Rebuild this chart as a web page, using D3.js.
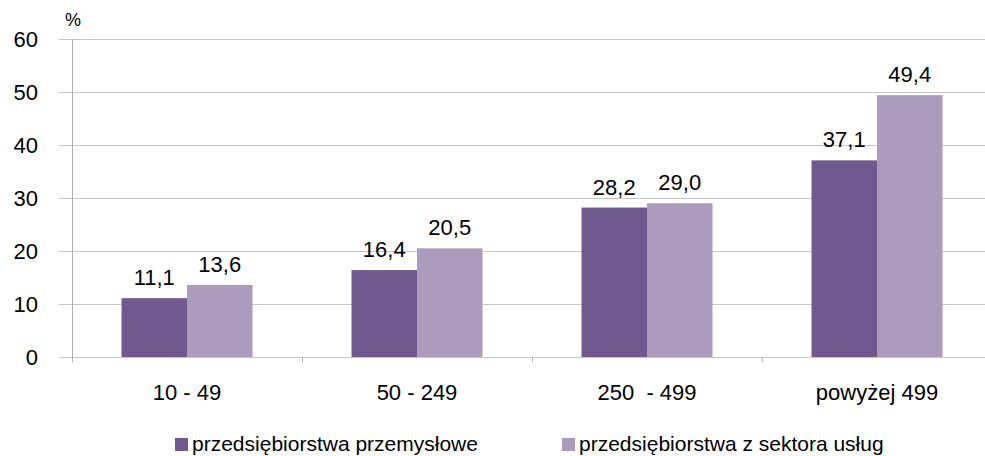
<!DOCTYPE html>
<html>
<head>
<meta charset="utf-8">
<script src="https://cdn.jsdelivr.net/npm/d3@7"></script>
<style>
  html, body { margin: 0; padding: 0; background: #fff; }
  svg { display: block; }
  text { font-family: "Liberation Sans", Arial, sans-serif; fill: #000; }
</style>
</head>
<body>
<svg id="chart" width="985" height="456"></svg>
<script>
const categories = ["10 - 49", "50 - 249", "250  - 499", "powyżej 499"];
const seriesNames = ["przedsiębiorstwa przemysłowe", "przedsiębiorstwa z sektora usług"];
const industry = [11.1, 16.4, 28.2, 37.1];
const services = [13.6, 20.5, 29.0, 49.4];
const yTicks = [0, 10, 20, 30, 40, 50, 60];
const colors = ["#6F598E", "#AB9CBE"];

const svg = d3.select("#chart");
const plotLeft = 72, plotRight = 992, plotTop = 39, plotBottom = 357;

const x = d3.scaleBand().domain(categories).range([plotLeft, plotRight]).paddingInner(0).paddingOuter(0);
const x1 = d3.scaleBand().domain(seriesNames).range([0, x.bandwidth()]).paddingInner(0).paddingOuter(0.756);
const y = d3.scaleLinear().domain([0, 60]).range([plotBottom, plotTop]);

// gridlines
svg.append("g").selectAll("line").data(yTicks).join("line")
  .attr("x1", 59).attr("x2", 985)
  .attr("y1", d => Math.round(y(d)) + 0.5).attr("y2", d => Math.round(y(d)) + 0.5)
  .attr("stroke", "#C6C6C6").attr("stroke-width", 1);

// y axis line
svg.append("line")
  .attr("x1", plotLeft + 0.5).attr("x2", plotLeft + 0.5)
  .attr("y1", plotTop).attr("y2", plotBottom + 5)
  .attr("stroke", "#B0B0B0").attr("stroke-width", 1);

// category boundary ticks
const bounds = categories.map(c => x(c)).concat([plotRight]);
svg.append("g").selectAll("line").data(bounds).join("line")
  .attr("x1", d => Math.round(d) + 0.5).attr("x2", d => Math.round(d) + 0.5)
  .attr("y1", plotBottom).attr("y2", plotBottom + 5)
  .attr("stroke", "#B0B0B0").attr("stroke-width", 1);

// y tick labels
svg.append("g").selectAll("text").data(yTicks).join("text")
  .attr("x", 38).attr("y", d => y(d) + 7.5)
  .attr("text-anchor", "end").attr("font-size", 22)
  .text(d => d);

// unit label
svg.append("text").attr("x", 65).attr("y", 26).attr("font-size", 18).text("%");

// bars
const data = categories.map((c, i) => ({ cat: c, vals: [industry[i], services[i]] }));
const groups = svg.append("g").selectAll("g").data(data).join("g")
  .attr("transform", d => `translate(${x(d.cat)},0)`);

groups.selectAll("rect").data(d => d.vals.map((v, j) => ({ v, s: seriesNames[j], j }))).join("rect")
  .attr("x", d => x1(d.s)).attr("width", x1.bandwidth())
  .attr("y", d => y(d.v)).attr("height", d => y(0) - y(d.v))
  .attr("fill", d => colors[d.j]);

groups.selectAll("text").data(d => d.vals.map((v, j) => ({ v, s: seriesNames[j], j }))).join("text")
  .attr("x", d => x1(d.s) + x1.bandwidth() / 2)
  .attr("y", d => y(d.v) - 13)
  .attr("text-anchor", "middle").attr("font-size", 22)
  .text(d => d3.format(".1f")(d.v).replace(".", ","));

// category labels
svg.append("g").selectAll("text").data(categories).join("text")
  .attr("x", d => x(d) + x.bandwidth() / 2).attr("y", 400)
  .attr("text-anchor", "middle").attr("font-size", 22)
  .style("white-space", "pre")
  .text(d => d);

// legend
const legendX = [175, 562];
const legend = svg.append("g").selectAll("g").data(seriesNames).join("g")
  .attr("transform", (d, i) => `translate(${legendX[i]},438)`);
legend.append("rect").attr("width", 13).attr("height", 13).attr("fill", (d, i) => colors[i]);
legend.append("text").attr("x", 17).attr("y", 13).attr("font-size", 21).text(d => d);
</script>
</body>
</html>
